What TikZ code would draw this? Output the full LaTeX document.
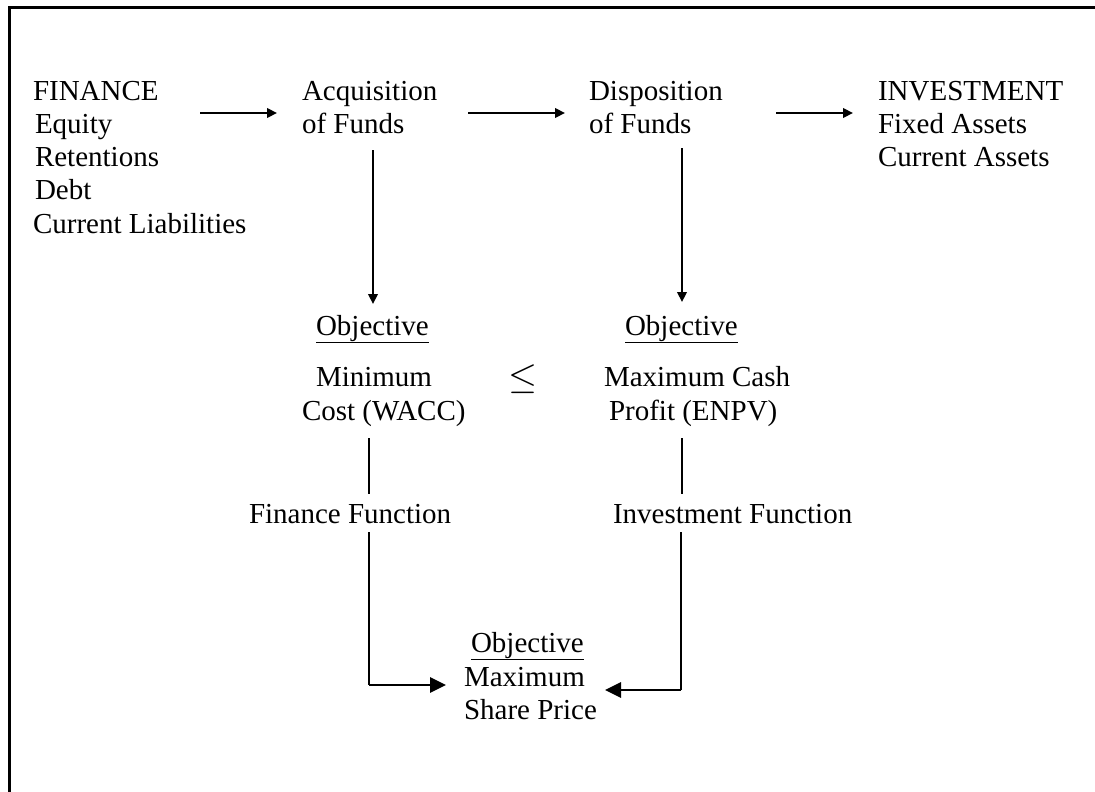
\documentclass[tikz,border=0pt]{standalone}
\usepackage{fontspec}
\setmainfont{Liberation Serif}
\usetikzlibrary{arrows.meta}
\newcommand{\myul}[1]{\underline{#1}}
\begin{document}
\begin{tikzpicture}[x=1pt,y=-1pt,
  lbl/.style={anchor=base west,inner sep=0pt,outer sep=0pt,font=\fontsize{29}{33.5}\selectfont},
  conn/.style={line width=2.3pt},
  arr/.style={conn,-{Triangle[length=10pt,width=9.5pt]}},
  bigarr/.style={line width=2.8pt,-{Triangle[length=16pt,width=15pt]}},
  framestyle/.style={line width=3pt}]
\useasboundingbox (0,0) rectangle (1095,792);
% frame
\draw[framestyle] (9.5,792) -- (9.5,8) -- (1095,8);
% finance block
\node[lbl] (fin)  at (33,100) {FINANCE};
\node[lbl] (equ)  at (35,133) {Equity};
\node[lbl] (ret)  at (35,166) {Retentions};
\node[lbl] (debt) at (35,199.5) {Debt};
\node[lbl] (cl)   at (33,233) {Current Liabilities};
% acquisition
\node[lbl] (acq1) at (302,100) {Acquisition};
\node[lbl] (acq2) at (302,133) {of Funds};
% disposition
\node[lbl] (dis1) at (589,100) {Disposition};
\node[lbl] (dis2) at (589,133) {of Funds};
% investment
\node[lbl] (inv)  at (878,100) {INVESTMENT};
\node[lbl] (fa)   at (878,133) {Fixed Assets};
\node[lbl] (ca)   at (878,166.5) {Current Assets};
% objectives
\node[lbl] (objL) at (316,335) {\myul{Objective}};
\node[lbl] (objR) at (625,335) {\myul{Objective}};
\node[lbl] (minL) at (316,386) {Minimum};
\node[lbl] (leq)  at (508,388) {\scalebox{1.5}{$\leq$}};
\node[lbl] (maxR) at (604,386) {Maximum Cash};
\node[lbl] (costL) at (302,420) {Cost (WACC)};
\node[lbl] (profR) at (609,420) {Profit (ENPV)};
\node[lbl] (ffun) at (249,523) {Finance Function};
\node[lbl] (ifun) at (613,523) {Investment Function};
% final objective
\node[lbl] (objB) at (471,652) {\myul{Objective}};
\node[lbl] (maxB) at (464,686) {Maximum};
\node[lbl] (shp)  at (464,719) {Share Price};
% connector end points
\coordinate (a1s) at (200,113);
\coordinate (a1e) at (277,113);
\coordinate (a2s) at (468,113);
\coordinate (a2e) at (565,113);
\coordinate (a3s) at (776,113);
\coordinate (a3e) at (853,113);
\coordinate (vLs) at (373,150);
\coordinate (vLe) at (373,304);
\coordinate (vRs) at (682,148);
\coordinate (vRe) at (682,302);
\coordinate (l1s) at (369,438);
\coordinate (l1e) at (369,494);
\coordinate (r1s) at (682,438);
\coordinate (r1e) at (682,494);
\coordinate (l2s) at (369,532);
\coordinate (l2c) at (369,685);
\coordinate (l2e) at (446,685);
\coordinate (r2s) at (681,532);
\coordinate (r2c) at (681,690);
\coordinate (r2e) at (605,690);
% connectors
\draw[arr] (a1s) -- (a1e);
\draw[arr] (a2s) -- (a2e);
\draw[arr] (a3s) -- (a3e);
\draw[arr] (vLs) -- (vLe);
\draw[arr] (vRs) -- (vRe);
\draw[conn] (l1s) -- (l1e);
\draw[conn] (r1s) -- (r1e);
\draw[conn] (l2s) -- (l2c);
\draw[bigarr] (l2c) -- (l2e);
\draw[conn] (r2s) -- (r2c);
\draw[bigarr] (r2c) -- (r2e);
\end{tikzpicture}
\end{document}
